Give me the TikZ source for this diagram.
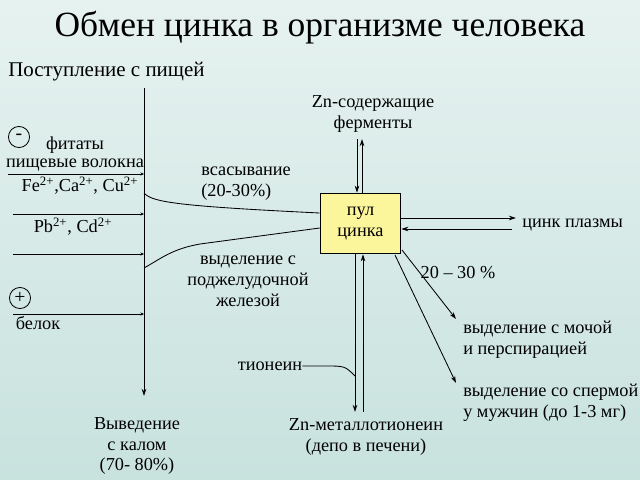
\documentclass[tikz,border=0pt]{standalone}
\usepackage{fontspec}
\setmainfont{Liberation Serif}
\usetikzlibrary{arrows.meta}
\definecolor{bgtop}{HTML}{E6F2F0}
\definecolor{bgbot}{HTML}{C8E2DE}
\definecolor{poolfill}{HTML}{FBF59C}
\tikzset{
  lbl/.style={inner sep=0pt, font=\fontsize{13}{14.8}\selectfont, align=center},
  lbll/.style={inner sep=0pt, font=\fontsize{13}{14.8}\selectfont, align=left, anchor=west},
  ln/.style={line width=0.6pt, draw=black},
  arr/.style={ln, -{Stealth[length=5pt,width=3.2pt]}},
  tip/.style={ln, -{Stealth[length=2.5pt,width=2.2pt]}},
  sign/.style={circle, draw, line width=0.6pt, minimum size=15pt, inner sep=0pt, font=\fontsize{14}{14}\selectfont}
}
\begin{document}
\begin{tikzpicture}[x=0.025cm,y=-0.025cm]
\shade[top color=bgtop, bottom color=bgbot] (0,0) rectangle (640,480);
\useasboundingbox (0,0) rectangle (640,480);

\node[inner sep=0pt, font=\fontsize{25.2}{28}\selectfont] (title) at (320,28) {Обмен цинка в организме человека};
\node[inner sep=0pt, anchor=west, font=\fontsize{14.9}{18}\selectfont] (intake) at (8,72) {Поступление с пищей};

% vertical intake line
\coordinate (vtop) at (144,88);
\coordinate (vbot) at (144,396);
\draw[arr] (vtop) -- (vbot);

% horizontal lines
\coordinate (h1a) at (8,174);   \coordinate (h1b) at (144,174);
\coordinate (h2a) at (13,214);  \coordinate (h2b) at (144,214);
\coordinate (h3a) at (13,254);  \coordinate (h3b) at (144,254);
\coordinate (h4a) at (13,314);  \coordinate (h4b) at (144,314);
\draw[tip] (h1a) -- (h1b);
\draw[tip] (h2a) -- (h2b);
\draw[tip] (h3a) -- (h3b);
\draw[tip] (h4a) -- (h4b);

\node[sign] (minus) at (19,137) {-};
\node[sign] (plus) at (20,298) {+};

\node[lbl] (phyt) at (75,145) {фитаты};
\node[lbl] (fibre) at (75,165) {пищевые волокна};
\node[lbl] (fe) at (80,186) {Fe\textsuperscript{2+},Ca\textsuperscript{2+}, Cu\textsuperscript{2+}};
\node[lbl] (pb) at (73,227) {Pb\textsuperscript{2+}, Cd\textsuperscript{2+}};
\node[lbl] (prot) at (38,323) {белок};

% pool
\node[draw, line width=0.6pt, fill=poolfill, inner sep=0pt,
      minimum width=57.4pt, minimum height=43.2pt, lbl] (pool) at (360.5,223.5) {пул\\цинка};

% absorption / secretion curves
\coordinate (abs0) at (144,193);
\coordinate (sec0) at (144,268);
\draw[ln] (abs0) .. controls (152,202) and (175,206) .. (pool.west |- 0,213);
\draw[ln] (sec0) .. controls (162,258) and (172,249) .. (200,244) -- (pool.west |- 0,228);

\node[lbll] (absorb) at (201,184) {всасывание\\(20-30\%)};
\node[lbl] (pancr) at (248,281) {выделение с\\поджелудочной\\железой};

% enzymes
\node[lbl] (enz) at (373,114) {Zn-содержащие\\ферменты};
\coordinate (e1) at (357,139);
\coordinate (e2) at (362,139);
\draw[arr] (e1) -- (pool.north -| e1);
\draw[arr] (pool.north -| e2) -- (e2);

% plasma
\node[lbl, anchor=west] (plasma) at (522,225) {цинк плазмы};
\coordinate (p1) at (516,218);
\coordinate (p2) at (512,229);
\draw[arr] (pool.east |- p1) -- (p1);
\draw[arr] (p2) -- (pool.east |- p2);

% liver depot
\node[lbl] (depot) at (366,437) {Zn-металлотионеин\\(депо в печени)};
\coordinate (d1) at (355,412);
\coordinate (d2) at (363,412);
\draw[arr] (pool.south -| d1) -- (d1);
\draw[arr] (d2) -- (pool.south -| d2);
\node[lbl] (thio) at (270,366) {тионеин};
\coordinate (tj) at (355,376);
\draw[ln] (thio.east) -- ++(22,0) .. controls (345,366) .. (tj);

% excretion
\node[lbl] (pct) at (458,273) {20 – 30 \%};
\coordinate (x1) at (456,319);
\coordinate (x2) at (456,383);
\draw[arr] (402,250) -- (x1);
\draw[arr] (395,255) -- (x2);
\node[lbll] (urine) at (463,340) {выделение с мочой\\и перспирацией};
\node[lbll] (sperm) at (463,403) {выделение со спермой\\у мужчин (до 1-3 мг)};

\node[lbl] (feces) at (137,446) {Выведение\\с калом\\(70- 80\%)};
\end{tikzpicture}
\end{document}
